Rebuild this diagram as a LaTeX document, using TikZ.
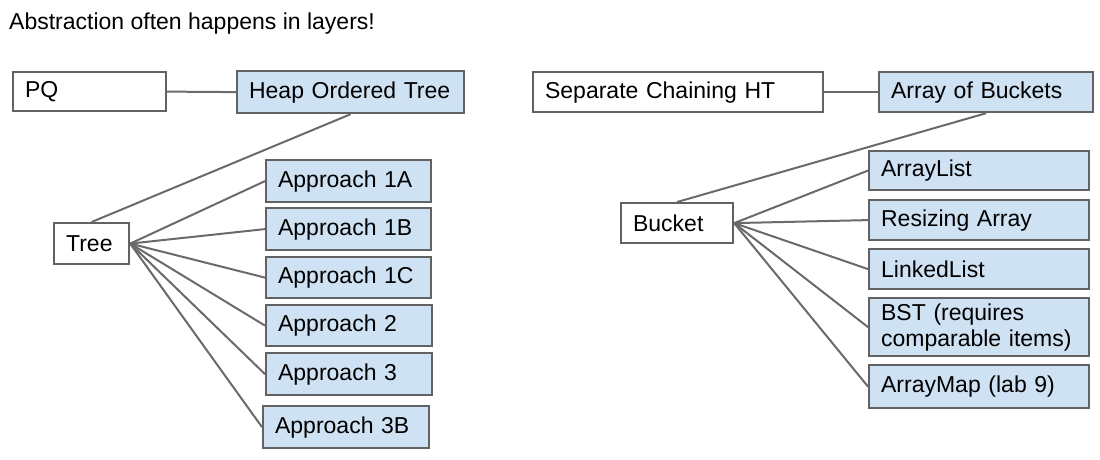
\documentclass[tikz,border=0pt]{standalone}
\usepackage{fontspec}
\setmainfont{Liberation Sans}
\definecolor{boxblue}{HTML}{CFE2F3}
\definecolor{edgegray}{HTML}{626262}
\definecolor{linkgray}{HTML}{6A6A6A}
\begin{document}
\begin{tikzpicture}[x=1pt,y=-1pt,
  box/.style={draw=edgegray, line width=2.2pt, inner xsep=12pt, inner ysep=0pt,
    anchor=north west, align=left, text=black,
    font=\fontsize{23}{26}\selectfont},
  bluebox/.style={box, fill=boxblue},
  plainbox/.style={box, fill=white},
  link/.style={draw=linkgray, line width=2pt}]
\useasboundingbox (0,0) rectangle (1100,459);

\node[anchor=base west, inner sep=0pt, font=\fontsize{23}{26}\selectfont] (title) at (9,29)
  {Abstraction often happens in layers!};

% priority queue side
\node[plainbox, text width=129pt, minimum height=39pt] (pq)   at (12,71)  {PQ};
\node[bluebox,  text width=203pt, minimum height=42pt] (hot)  at (236,70) {Heap Ordered Tree};
\node[plainbox, text width=51pt,  minimum height=41pt] (tree) at (53,222) {Tree};
\node[bluebox,  text width=141pt, minimum height=42pt] (a1a)  at (265,159) {Approach 1A};
\node[bluebox,  text width=141pt, minimum height=42pt] (a1b)  at (265,207) {Approach 1B};
\node[bluebox,  text width=141pt, minimum height=41pt] (a1c)  at (265,256) {Approach 1C};
\node[bluebox,  text width=142pt, minimum height=41pt] (a2)   at (265,304) {Approach 2};
\node[bluebox,  text width=142pt, minimum height=42pt] (a3)   at (265,352) {Approach 3};
\node[bluebox,  text width=142pt, minimum height=42pt] (a3b)  at (262,405) {Approach 3B};

% hash table side
\node[plainbox, text width=266pt, minimum height=40pt] (sc)   at (532,71)  {Separate Chaining HT};
\node[bluebox,  text width=190pt, minimum height=40pt] (aob)  at (878,71)  {Array of Buckets};
\node[plainbox, text width=88pt,  minimum height=40pt] (bkt)  at (620,202) {Bucket};
\node[bluebox,  text width=196pt, minimum height=39pt] (al)   at (868,150) {ArrayList};
\node[bluebox,  text width=196pt, minimum height=40pt] (ra)   at (868,199) {Resizing Array};
\node[bluebox,  text width=196pt, minimum height=40pt] (ll)   at (868,248) {LinkedList};
\node[bluebox,  text width=196pt, minimum height=58pt] (bst)  at (868,297) {BST (requires\\comparable items)};
\node[bluebox,  text width=196pt, minimum height=43pt] (am)   at (868,364) {ArrayMap (lab 9)};

% connectors
\draw[link] (pq.east) -- (hot.west);
\draw[link] (hot.south) -- (tree.north);
\foreach \t in {a1a,a1b,a1c,a2,a3,a3b}
  \draw[link] (tree.east) -- (\t.west);

\draw[link] (sc.east) -- (aob.west);
\draw[link] (aob.south) -- (bkt.north);
\foreach \t in {al,ra,ll,bst,am}
  \draw[link] (bkt.east) -- (\t.west);
\end{tikzpicture}
\end{document}
